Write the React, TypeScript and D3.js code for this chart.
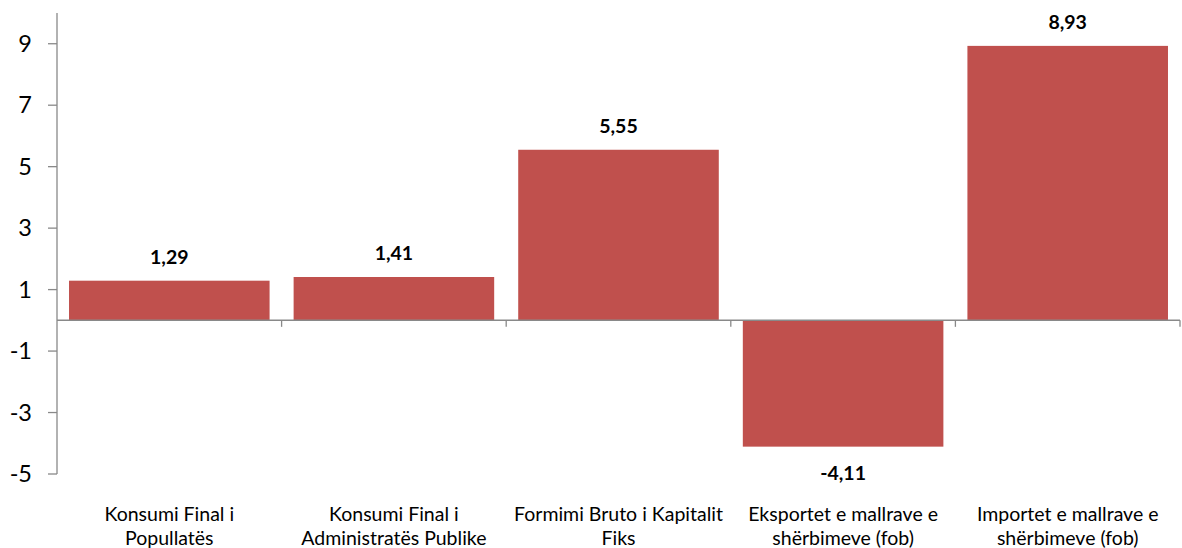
import React from "react";
import * as d3 from "d3";

const categories: string[][] = [
  ["Konsumi Final i", "Popullatës"],
  ["Konsumi Final i", "Administratës Publike"],
  ["Formimi Bruto i Kapitalit", "Fiks"],
  ["Eksportet e mallrave e", "shërbimeve (fob)"],
  ["Importet e mallrave e", "shërbimeve (fob)"],
];
const values: number[] = [1.29, 1.41, 5.55, -4.11, 8.93];
const valueLabels: string[] = ["1,29", "1,41", "5,55", "-4,11", "8,93"];
const yTicks: number[] = [-5, -3, -1, 1, 3, 5, 7, 9];

const W = 1182;
const H = 548;
const FONT = "Lato, 'Open Sans', sans-serif";
const AXIS = "#898989";
const BAR = "#C0504D";

export default function App() {
  const y = d3.scaleLinear().domain([-5, 10]).range([474, 13]);
  const x = d3
    .scaleBand<number>()
    .domain(values.map((_, i) => i))
    .range([57, 1180])
    .paddingInner(0.107)
    .paddingOuter(0.0535);
  const step = x.step();
  const x0 = 57;
  const y0 = y(0);

  return (
    <svg
      width={W}
      height={H}
      style={{ position: "absolute", left: 0, top: 0, display: "block", background: "#fff" }}
    >
      {values.map((v, i) => (
        <rect
          key={i}
          x={x(i)}
          y={Math.min(y(v), y0)}
          width={x.bandwidth()}
          height={Math.abs(y(v) - y0)}
          fill={BAR}
        />
      ))}
      {/* y axis */}
      <line x1={x0} x2={x0} y1={y(10)} y2={y(-5)} stroke={AXIS} strokeWidth={1.3} />
      {yTicks.map((t) => (
        <g key={t}>
          <line x1={x0 - 9} x2={x0} y1={y(t)} y2={y(t)} stroke={AXIS} strokeWidth={1.3} />
          <text
            x={x0 - 25}
            y={y(t)}
            dy="0.35em"
            textAnchor="end"
            fontFamily={FONT}
            fontSize={23.5}
            fill="#000"
          >
            {t}
          </text>
        </g>
      ))}
      {/* category axis */}
      <line x1={x0} x2={1180} y1={y0} y2={y0} stroke={AXIS} strokeWidth={1.5} />
      {values.map((_, i) => (
        <line
          key={i}
          x1={x0 + step * (i + 1)}
          x2={x0 + step * (i + 1)}
          y1={y0}
          y2={y0 + 6.5}
          stroke={AXIS}
          strokeWidth={1.3}
        />
      ))}
      {/* value labels */}
      {values.map((v, i) => {
        const cx = (x(i) as number) + x.bandwidth() / 2;
        const ty = v >= 0 ? y(v) - 17 : y(v) + 33;
        return (
          <text
            key={i}
            x={cx}
            y={ty}
            textAnchor="middle"
            fontFamily={FONT}
            fontWeight="bold"
            fontSize={19.5}
            fill="#000"
          >
            {valueLabels[i]}
          </text>
        );
      })}
      {/* category labels */}
      {categories.map((lines, i) => {
        const cx = (x(i) as number) + x.bandwidth() / 2;
        return (
          <text
            key={i}
            x={cx}
            textAnchor="middle"
            fontFamily={FONT}
            fontSize={19.5}
            fill="#000"
          >
            {lines.map((l, j) => (
              <tspan key={j} x={cx} y={520.7 + j * 24.4}>
                {l}
              </tspan>
            ))}
          </text>
        );
      })}
    </svg>
  );
}
